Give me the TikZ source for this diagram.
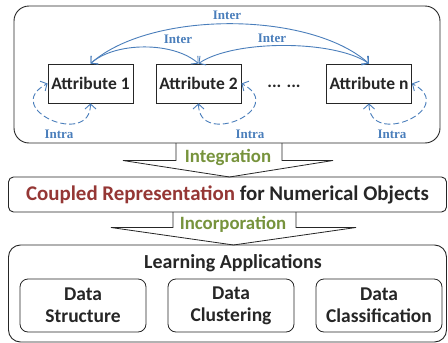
\documentclass[tikz,border=0pt]{standalone}
\usepackage{fontspec}
\setmainfont{Carlito}
\newfontfamily\labelfont{Liberation Serif}
\usetikzlibrary{arrows.meta}
\definecolor{linkblue}{RGB}{74,126,187}
\definecolor{stepgreen}{RGB}{119,147,60}
\definecolor{coupledred}{RGB}{149,55,53}
\definecolor{boxgray}{RGB}{38,38,38}
\begin{document}
\begin{tikzpicture}[x=1pt,y=1pt,
    frame/.style={draw=boxgray, line width=0.9pt, rounded corners=#1},
    attr/.style={draw=boxgray, line width=0.8pt, minimum width=85pt, minimum height=39pt,
      inner sep=0pt, text=boxgray, font=\fontsize{17.5}{20}\selectfont\bfseries},
    app/.style={draw=boxgray, line width=0.8pt, rounded corners=8pt, minimum width=126pt,
      minimum height=53pt, inner sep=0pt, align=center, text=boxgray,
      font=\fontsize{19.5}{22}\selectfont\bfseries},
    inter/.style={linkblue, line width=0.9pt,
      {Straight Barb[length=5pt,width=11pt]}-{Straight Barb[length=5pt,width=11pt]}},
    intra/.style={inter, dash pattern=on 6pt off 3pt},
    lbl/.style={text=linkblue, font=\labelfont\fontsize{13}{14}\selectfont\bfseries},
    flowtext/.style={text=stepgreen, font=\fontsize{18.8}{20}\selectfont\bfseries},
    flow/.style={draw=boxgray, line width=0.8pt}]
  \useasboundingbox (0,0) rectangle (448,-343);
  % attributes and their couplings
  \node[frame=15pt, minimum width=426pt, minimum height=137pt] (attrs) at (227,-74.5) {};
  \node[attr] (a1) at (90.5,-83.5) {Attribute 1};
  \node[attr] (a2) at (198.5,-83.5) {Attribute 2};
  \node[attr] (an) at (369,-83.5) {Attribute n};
  \node[text=boxgray, font=\fontsize{17.5}{20}\selectfont\bfseries] (dots) at (284,-86) {... ...};
  \draw[inter] (a1.north) .. controls +(60,53) and +(-60,53) .. (an.north);
  \draw[inter] (a1.north) .. controls +(25,22) and +(-25,22) .. (a2.north);
  \draw[inter] (a2.north) .. controls +(35,24) and +(-35,24) .. (an.north);
  \node[lbl] (inter0) at (227,-15) {Inter};
  \node[lbl] (inter1) at (178,-39) {Inter};
  \node[lbl] (inter2) at (272,-38) {Inter};
  \draw[intra] (a1.south) .. controls +(0,-45) and +(-48,-25) .. (a1.west);
  \draw[intra] (a2.south) .. controls +(0,-45) and +(48,-25) .. (a2.east);
  \draw[intra] (an.south) .. controls +(0,-45) and +(48,-25) .. (an.east);
  \node[lbl] (intra1) at (59,-134) {Intra};
  \node[lbl] (intra2) at (250,-134) {Intra};
  \node[lbl] (intran) at (392,-134) {Intra};
  % integration
  \draw[flow] (176,-143) -- (176,-160.5) -- (123,-160.5) -- (229.5,-177)
    -- (333,-160.5) -- (282,-160.5) -- (282,-143);
  \node[flowtext] (integ) at (228,-157) {Integration};
  \node[frame=5pt, minimum width=438pt, minimum height=35pt, text=boxgray,
    font=\fontsize{20.9}{22}\selectfont\bfseries] (coupled) at (227.5,-194.5)
    {{\color{coupledred}Coupled Representation} for Numerical Objects};
  % incorporation
  \draw[flow] (173,-212) -- (173,-227.5) -- (111,-227.5) -- (233.5,-245)
    -- (356,-227.5) -- (296,-227.5) -- (296,-212);
  \node[flowtext] (incorp) at (233,-224) {Incorporation};
  \node[frame=12pt, minimum width=438pt, minimum height=97pt] (apps) at (227.5,-293.5) {};
  \node[text=boxgray, font=\fontsize{19.9}{22}\selectfont\bfseries] (learn) at (233,-263) {Learning Applications};
  \node[app] (struct) at (83,-305.5) {Data\\Structure};
  \node[app] (clust) at (231,-305.5) {Data\\Clustering};
  \node[app] (classif) at (379,-305.5) {Data\\Classification};
\end{tikzpicture}
\end{document}
